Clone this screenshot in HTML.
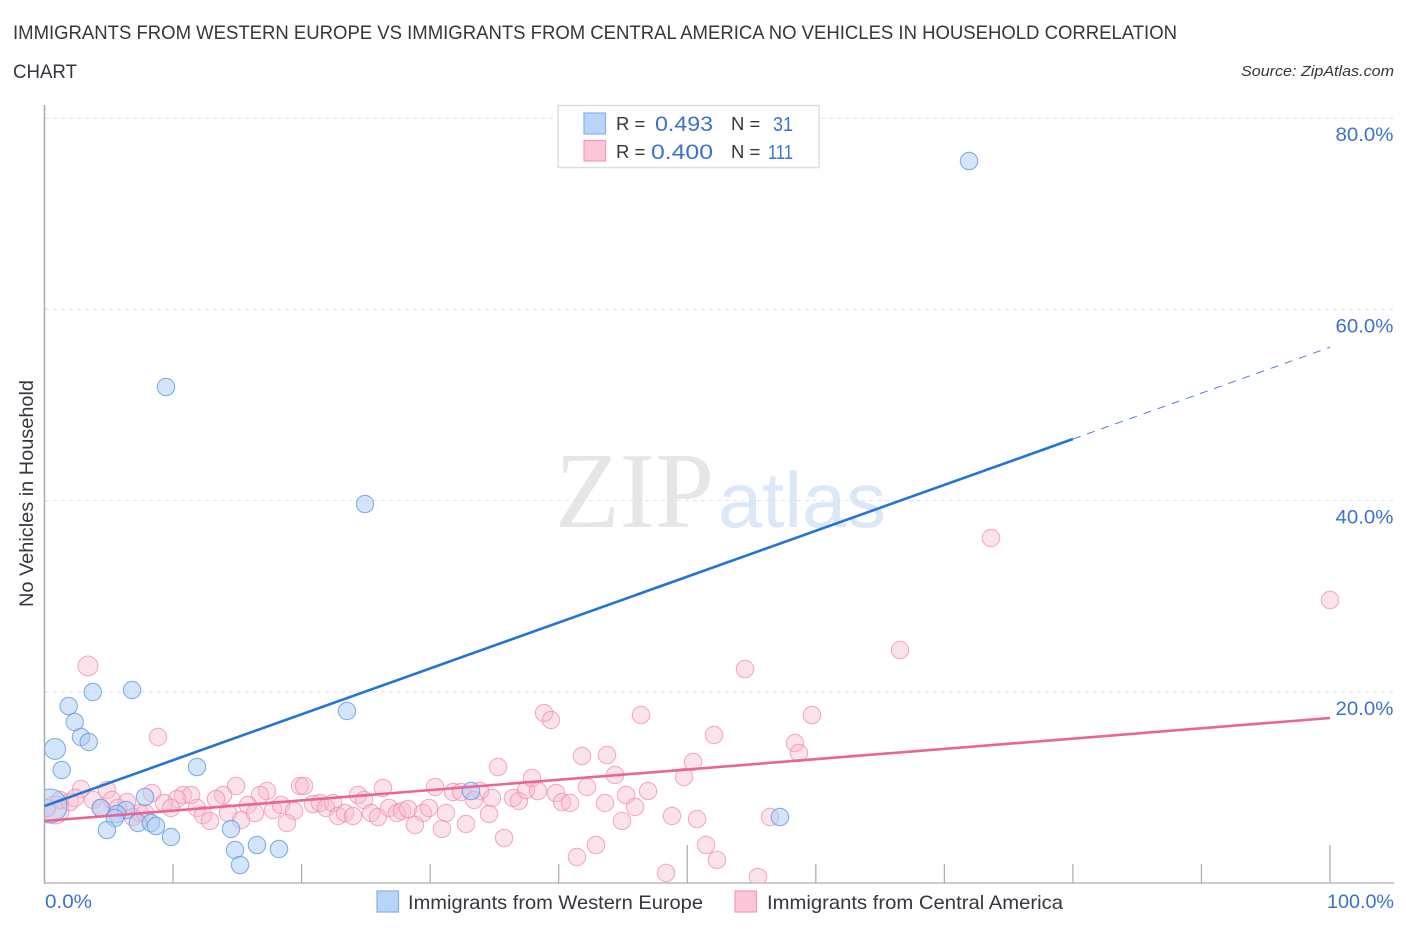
<!DOCTYPE html>
<html lang="en">
<head>
<meta charset="utf-8">
<title>Immigrants from Western Europe vs Immigrants from Central America No Vehicles in Household Correlation Chart</title>
<style>
  html,body{margin:0;padding:0;background:#fff;}
  svg{display:block;font-family:"Liberation Sans",sans-serif;}
</style>
</head>
<body>
<svg id="chart" xmlns="http://www.w3.org/2000/svg" width="1406" height="930" viewBox="0 0 1406 930">
  <defs>
    <clipPath id="plot-clip"><rect x="45" y="100" width="1349" height="783"/></clipPath>
  </defs>
  <rect width="1406" height="930" fill="#ffffff"/>

  <text x="13" y="39" font-size="19" fill="#33373e" textLength="1164" lengthAdjust="spacingAndGlyphs">IMMIGRANTS FROM WESTERN EUROPE VS IMMIGRANTS FROM CENTRAL AMERICA NO VEHICLES IN HOUSEHOLD CORRELATION</text>
  <text x="13" y="78" font-size="19" fill="#33373e" textLength="64" lengthAdjust="spacingAndGlyphs">CHART</text>
  <text x="1241" y="76" font-size="15" font-style="italic" fill="#33373e" textLength="153" lengthAdjust="spacingAndGlyphs">Source: ZipAtlas.com</text>

  <text x="555" y="527" font-family="'Liberation Serif',serif" font-size="108" fill="#e6e6e6" textLength="159" lengthAdjust="spacingAndGlyphs">ZIP</text>
  <text x="718" y="527" font-size="78" fill="#dce8f8" textLength="168" lengthAdjust="spacingAndGlyphs">atlas</text>

  <g id="grid"></g>
  <g id="axes"></g>
  <g id="points" clip-path="url(#plot-clip)"></g>
  <g id="trends"></g>
  <g id="y-labels"></g>

  <text transform="translate(33,607) rotate(-90)" font-size="19" fill="#33373e" textLength="227" lengthAdjust="spacingAndGlyphs">No Vehicles in Household</text>
  <text x="45" y="908" font-size="19" fill="#3b72cf" textLength="47" lengthAdjust="spacingAndGlyphs">0.0%</text>
  <text x="1327" y="908" font-size="19" fill="#3b72cf" textLength="67" lengthAdjust="spacingAndGlyphs">100.0%</text>

  <g>
    <rect x="558" y="105.5" width="261" height="62" fill="#ffffff" stroke="#dddddd" stroke-width="1.5"/>
    <rect x="584" y="113" width="21.5" height="21" fill="#b8d4f8" stroke="#86b0ea" stroke-width="1.2"/>
    <rect x="584" y="140.5" width="21.5" height="20.5" fill="#fcc6d8" stroke="#f29ab8" stroke-width="1.2"/>
    <text x="616" y="130" font-size="18.5" fill="#33373e">R =</text>
    <text x="655" y="131" font-size="21" fill="#3b72cf" textLength="58" lengthAdjust="spacingAndGlyphs">0.493</text>
    <text x="731" y="130" font-size="18.5" fill="#33373e">N =</text>
    <text x="773" y="131" font-size="20" fill="#3b72cf" textLength="20" lengthAdjust="spacingAndGlyphs">31</text>
    <text x="616" y="158" font-size="18.5" fill="#33373e">R =</text>
    <text x="651" y="159" font-size="21" fill="#3b72cf" textLength="62" lengthAdjust="spacingAndGlyphs">0.400</text>
    <text x="731" y="158" font-size="18.5" fill="#33373e">N =</text>
    <text x="768" y="159" font-size="20" fill="#3b72cf" textLength="25" lengthAdjust="spacingAndGlyphs">111</text>
  </g>

  <g>
    <rect x="377" y="891" width="21.5" height="21" fill="#b8d4f8" stroke="#86b0ea" stroke-width="1.2"/>
    <text x="408" y="909" font-size="19.5" fill="#33373e" textLength="295" lengthAdjust="spacingAndGlyphs">Immigrants from Western Europe</text>
    <rect x="735" y="891" width="21.5" height="21" fill="#fcc6d8" stroke="#f29ab8" stroke-width="1.2"/>
    <text x="767" y="909" font-size="19.5" fill="#33373e" textLength="296" lengthAdjust="spacingAndGlyphs">Immigrants from Central America</text>
  </g>
</svg>
<script>
const yTickValues = [20, 40, 60, 80];
const yTickLabels = ["20.0%", "40.0%", "60.0%", "80.0%"];
const xTickValues = [10, 20, 30, 40, 50, 60, 70, 80, 90, 100];
const xMajorTicks = [50, 100];

const westernEuropeX = [71.92,9.45,24.93,23.53,6.81,3.75,1.88,2.35,2.84,3.44,0.82,1.34,11.86,7.82,0.43,4.37,6.34,5.64,5.48,4.86,7.27,8.28,8.67,9.84,14.51,14.82,16.53,18.24,15.21,33.18,57.21];
const westernEuropeY = [75.52,51.88,39.64,17.99,20.19,19.98,18.51,16.84,15.27,14.75,14.02,11.82,12.13,9.0,8.05,7.85,7.64,7.22,6.8,5.54,6.28,6.28,5.96,4.81,5.65,3.45,3.97,3.56,1.88,9.62,6.9];
const westernEuropeWeight = [1,1,1,1,1,1,1,1,1,1,1.45,1,1,1,3.8,1,1,1,1,1,1,1,1,1,1,1,1,1,1,1,1];

const centralAmericaX = [3.38,8.83,2.84,4.86,8.36,14.9,17.31,19.88,20.19,13.89,13.34,16.76,10.77,11.4,10.31,9.3,9.84,11.86,12.33,12.87,14.27,15.29,15.83,16.37,17.78,18.4,19.41,18.86,20.89,21.43,21.9,22.44,22.83,23.38,0.82,1.21,1.98,2.37,3.77,4.4,5.25,6.42,5.72,6.88,7.43,7.82,24,24.39,24.85,25.4,25.94,26.33,26.8,27.42,27.81,28.28,29.44,29.91,28.82,30.38,31.23,30.92,32.79,31.78,32.4,33.88,33.41,34.81,34.58,35.28,35.75,36.45,36.91,37.46,37.92,38.39,38.86,39.4,39.79,40.26,40.88,41.81,42.2,43.76,44.38,43.6,45.24,45.94,44.92,46.95,46.4,42.9,41.42,48.35,48.81,49.75,66.55,54.49,59.7,52.08,58.38,58.69,50.45,50.76,56.44,51.46,52.31,55.5,73.63,100,0.19];
const centralAmericaY = [22.7,15.27,9.83,9.73,9.41,10.15,9.62,10.15,10.15,9.2,8.79,9.2,9.2,9.2,8.79,8.37,7.85,7.85,7.11,6.49,7.32,6.59,8.16,7.32,7.64,8.16,7.53,6.28,8.26,8.37,7.85,8.37,7.01,7.32,7.64,8.68,8.47,8.89,8.68,7.85,8.68,8.47,7.85,6.9,7.32,7.32,7.01,9.2,8.68,7.32,6.9,9.94,7.85,7.32,7.53,7.74,7.32,7.85,6.07,10.04,7.32,5.65,6.17,9.52,9.52,9.62,8.68,8.89,7.22,12.13,4.71,8.89,8.58,9.73,10.98,9.62,17.78,17.05,9.41,8.47,8.37,13.28,10.04,13.39,11.3,8.37,9.2,7.95,6.49,9.62,17.57,3.97,2.72,1.05,7.01,11.09,24.37,22.38,17.57,15.48,14.64,13.6,12.66,6.69,6.9,3.97,2.41,0.63,36.09,29.6,7.85];
const centralAmericaWeight = [1.3,1,1,1,1,1,1,1,1,1,1,1,1,1,1,1,1,1,1,1,1,1,1,1,1,1,1,1,1,1,1,1,1,1,2.6,1,1,1,1,1,1,1,1,1,1,1,1,1,1,1,1,1,1,1,1,1,1,1,1,1,1,1,1,1,1,1,1,1,1,1,1,1,1,1,1,1,1,1,1,1,1,1,1,1,1,1,1,1,1,1,1,1,1,1,1,1,1,1,1,1,1,1,1,1,1,1,1,1,1,1,1];

const westernTrendX = [0, 80, 100];
const westernTrendY = [8.05, 46.44, 56.04];
const centralTrendX = [0, 100];
const centralTrendY = [6.49, 17.26];

const SVG_NS = "http://www.w3.org/2000/svg";
function xScale(v) { return 44.5 + v * 12.855; }
function yScale(v) { return 883 - v * 9.56; }
function radiusOf(w) { return 8.7 * Math.sqrt(w); }
function make(tag, parentId, attrs) {
  const el = document.createElementNS(SVG_NS, tag);
  for (const k in attrs) el.setAttribute(k, attrs[k]);
  document.getElementById(parentId).appendChild(el);
  return el;
}

yTickValues.forEach(function (v, i) {
  const line = make("line", "grid", { x1: 45, x2: 1394, y1: yScale(v), y2: yScale(v), stroke: "#e0e0e0", "stroke-width": 1, "stroke-dasharray": "4 4" });
  
  
  const label = make("text", "y-labels", { x: 1393.5, y: yScale(v) + 23, "text-anchor": "end", "font-size": 19.5, fill: "#3b72cf", textLength: 58, lengthAdjust: "spacingAndGlyphs" });
  label.textContent = yTickLabels[i];
  
  
});

const yAxisLine = make("line", "axes", { x1: 44.5, x2: 44.5, y1: 105, y2: 884, stroke: "#aaaaaa", "stroke-width": 1.5 });


const xAxisLine = make("line", "axes", { x1: 44, x2: 1394, y1: 883, y2: 883, stroke: "#bbbbbb", "stroke-width": 1.5 });


xTickValues.forEach(function (v) {
  const len = xMajorTicks.indexOf(v) >= 0 ? 38 : 19;
  const tick = make("line", "axes", { x1: xScale(v), x2: xScale(v), y1: 883 - len, y2: 883, stroke: "#aaaaaa", "stroke-width": 1.2 });
  
  
});

centralAmericaX.forEach(function (v, i) {
  const dot = make("circle", "points", { cx: xScale(v), cy: yScale(centralAmericaY[i]), r: radiusOf(centralAmericaWeight[i]), fill: "#f9b9cf", "fill-opacity": 0.42, stroke: "#ee8dac", "stroke-opacity": 0.7, "stroke-width": 1.1 });
  
  
});
westernEuropeX.forEach(function (v, i) {
  const dot = make("circle", "points", { cx: xScale(v), cy: yScale(westernEuropeY[i]), r: radiusOf(westernEuropeWeight[i]), fill: "#a9cbf5", "fill-opacity": 0.5, stroke: "#5f97e0", "stroke-opacity": 0.75, "stroke-width": 1.1 });
  
  
});

const westernSolid = make("line", "trends", { x1: xScale(westernTrendX[0]), y1: yScale(westernTrendY[0]), x2: xScale(westernTrendX[1]), y2: yScale(westernTrendY[1]), stroke: "#2473d8", "stroke-width": 2.6 });


const westernDash = make("line", "trends", { x1: xScale(westernTrendX[1]), y1: yScale(westernTrendY[1]), x2: xScale(westernTrendX[2]), y2: yScale(westernTrendY[2]), stroke: "#4f7fc8", "stroke-width": 1, "stroke-dasharray": "8 7" });


const centralLine = make("line", "trends", { x1: xScale(centralTrendX[0]), y1: yScale(centralTrendY[0]), x2: xScale(centralTrendX[1]), y2: yScale(centralTrendY[1]), stroke: "#ea6496", "stroke-width": 2.6 });


</script>
</body>
</html>
